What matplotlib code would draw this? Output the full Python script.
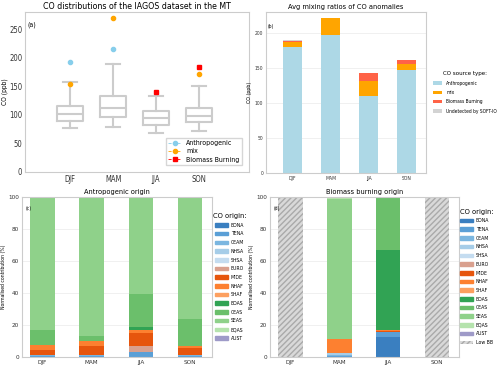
import matplotlib
matplotlib.use('agg')
import matplotlib.pyplot as plt
from matplotlib.patches import Patch
from matplotlib.lines import Line2D
import numpy as np

seasons = ['DJF', 'MAM', 'JJA', 'SON']

# (a) box statistics (ppb)
whislo = [77, 79, 68, 72]
q1 = [90, 96, 82, 88]
med = [101, 112, 94, 99]
q3 = [115, 133, 107, 112]
whishi = [157, 190, 134, 150]
anthro_pts = [193, 215, np.nan, np.nan]
mix_pts = [154, 271, np.nan, 172]
bb_pts = [np.nan, np.nan, 141, 184]

# (b) stacked mean anomalies (ppb)
src_types = ['Anthropogenic', 'mix', 'Biomass Burning', 'Undetected by SOFT-IO']
src_colors = ['#add8e6', '#ffa500', '#ff6347', '#d3d3d3']
anom_anthro = [179, 196, 110, 147]
anom_mix = [8, 25, 21, 8]
anom_bb = [0.5, 0, 11, 6]
anom_undet = [1.5, 0, 0, 0]

# (c)/(d) normalised contributions (%)
regions = ['BONA', 'TENA', 'CEAM', 'NHSA', 'SHSA', 'EURO', 'MIDE', 'NHAF',
           'SHAF', 'BOAS', 'CEAS', 'SEAS', 'EQAS', 'AUST']
region_colors = ['#3a7fc0', '#5a9fd6', '#7ab6e0', '#a6cde8', '#c4dcf0',
                 '#d9a08e', '#e6550d', '#fd8030', '#fda060', '#31a354',
                 '#6bbf6b', '#8fd18a', '#b5e3ad', '#9e9ac8']
anthro_origin = {
    'DJF': [0, 0.6, 0.5, 0.3, 0, 0, 2.7, 3.6, 0, 0, 9.3, 83, 0, 0],
    'MAM': [0, 0.6, 0.5, 0.3, 0, 0, 5.2, 3.6, 0, 0, 2.7, 87.1, 0, 0],
    'JJA': [0, 3.0, 0, 0, 0, 3.6, 8.4, 1.6, 0, 1.9, 21.1, 60.4, 0, 0],
    'SON': [0, 0.6, 0.5, 0.3, 0, 0, 4.2, 1.0, 0, 0, 17.1, 76.3, 0, 0],
}
bb_origin = {
    'DJF': None,
    'MAM': [0, 0.5, 1.0, 0.7, 0, 0, 0.6, 8.2, 0, 0, 0, 87.5, 1.5, 0],
    'JJA': [12.5, 3.1, 0, 0, 0, 0, 0.6, 0.6, 0, 49.8, 33.4, 0, 0, 0],
    'SON': None,
}

grey = '#cccccc'
plt.rcParams['font.family'] = 'DejaVu Sans'
plt.rcParams['font.stretch'] = 'condensed'
fig = plt.figure(figsize=(5, 3.69), dpi=100)


def style_axes(ax, grid=True):
    for s in ax.spines.values():
        s.set_color(grey)
        s.set_linewidth(0.8)
    ax.tick_params(length=0, pad=2, colors='#333333')
    if grid:
        ax.yaxis.grid(True, color='#eeeeee', linewidth=0.6)
        ax.set_axisbelow(True)


# ---- (a) boxplot ----
ax = fig.add_axes([0.05, 0.534, 0.448, 0.434])
stats = []
for i in range(4):
    stats.append({'whislo': whislo[i], 'q1': q1[i], 'med': med[i],
                  'q3': q3[i], 'whishi': whishi[i], 'fliers': []})
pos = np.arange(1, 5)
lp = dict(color=grey, linewidth=1.5)
ax.bxp(stats, positions=pos, widths=0.62, showfliers=False,
       boxprops=lp, medianprops=lp, whiskerprops=lp, capprops=lp)
ax.plot(pos, anthro_pts, 'o', color='#87ceeb', markersize=3, ls='none')
ax.plot(pos, mix_pts, 'o', color='#ffa500', markersize=3, ls='none')
ax.plot(pos, bb_pts, 's', color='#ff0000', markersize=3, ls='none')
ax.set_xlim(-0.05, 5.16)
ax.set_ylim(0, 281)
ax.set_xticks(pos)
ax.set_xticklabels(seasons)
ax.set_yticks([0, 50, 100, 150, 200, 250])
style_axes(ax, grid=False)
ax.tick_params(labelsize=5.5)
ax.set_ylabel('CO (ppb)', fontsize=4.8, labelpad=1)
ax.set_title('CO distributions of the IAGOS dataset in the MT', fontsize=6.3, pad=2)
ax.text(0.01, 0.91, '(a)', transform=ax.transAxes, fontsize=5)
handles = [Line2D([], [], color='#87ceeb', ls='--', marker='o', markersize=3, lw=0.6),
           Line2D([], [], color='#ffa500', ls='--', marker='o', markersize=3, lw=0.6),
           Line2D([], [], color='#ff0000', ls='--', marker='s', markersize=3, lw=0.6)]
ax.legend(handles, ['Anthropogenic', 'mix', 'Biomass Burning'], loc='lower right',
          fontsize=5, frameon=True, edgecolor=grey, handlelength=1.8,
          borderaxespad=1.0, labelspacing=0.3, fancybox=False, borderpad=0.35)

# ---- (b) stacked bars ----
ax = fig.add_axes([0.532, 0.531, 0.32, 0.436])
x = np.arange(4)
bottom = np.zeros(4)
for vals, lab, col in zip([anom_anthro, anom_mix, anom_bb, anom_undet], src_types, src_colors):
    ax.bar(x, vals, width=0.5, bottom=bottom, color=col, label=lab)
    bottom += np.array(vals)
ax.set_xlim(-0.7, 3.5)
ax.set_ylim(0, 229)
ax.set_xticks(x)
ax.set_xticklabels(seasons)
ax.set_yticks([0, 50, 100, 150, 200])
style_axes(ax)
ax.tick_params(labelsize=3.6)
ax.set_ylabel('CO (ppb)', fontsize=3.8, labelpad=2)
ax.set_title('Avg mixing ratios of CO anomalies', fontsize=5.3, pad=2)
ax.text(0.01, 0.9, '(b)', transform=ax.transAxes, fontsize=3.6)
ax.legend(loc='center left', bbox_to_anchor=(1.03, 0.5), fontsize=3.5, frameon=False,
          title='CO source type:', title_fontsize=4.4, handlelength=2.0,
          labelspacing=0.9, borderaxespad=0)


# ---- (c)/(d) normalised contributions ----
def origin_panel(rect, data, title, tag, low_bb):
    ax = fig.add_axes(rect)
    for i, s in enumerate(seasons):
        vals = data[s]
        if vals is None:
            ax.bar(i, 100, width=0.5, color='#d9d9d9', edgecolor='#aaaaaa',
                   hatch='//////', linewidth=0)
            continue
        b = 0
        for v, col in zip(vals, region_colors):
            if v > 0:
                ax.bar(i, v, width=0.5, bottom=b, color=col, linewidth=0)
            b += v
    ax.set_xlim(-0.42, 3.45)
    ax.set_ylim(0, 100)
    ax.set_xticks(range(4))
    ax.set_xticklabels(seasons)
    ax.set_yticks([0, 20, 40, 60, 80, 100])
    style_axes(ax)
    ax.tick_params(labelsize=4.6)
    ax.set_ylabel('Normalised contribution (%)', fontsize=3.7, labelpad=2)
    ax.set_title(title, fontsize=5.3, pad=2)
    ax.text(0.02, 0.92, tag, transform=ax.transAxes, fontsize=3.6)
    handles = [Patch(color=c, label=r) for r, c in zip(regions, region_colors)]
    if low_bb:
        handles.append(Patch(facecolor='#d9d9d9', edgecolor='#aaaaaa', hatch='//////',
                             linewidth=0, label='Low BB'))
    ax.legend(handles=handles, loc='center left', bbox_to_anchor=(1.0, 0.5), fontsize=3.7,
              frameon=False, title='CO origin:', title_fontsize=5.4, borderpad=0.1,
              handlelength=2.5, handletextpad=0.6, labelspacing=0.72, borderaxespad=0)


origin_panel([0.044, 0.0325, 0.38, 0.434], anthro_origin, 'Antropogenic origin', '(c)', False)
origin_panel([0.54, 0.0325, 0.378, 0.434], bb_origin, 'Biomass burning origin', '(d)', True)

fig.savefig('out.png', dpi=100)
